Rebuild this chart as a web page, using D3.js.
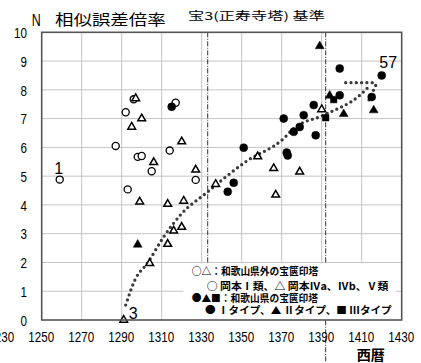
<!DOCTYPE html>
<html>
<head>
<meta charset="utf-8">
<script src="https://cdn.jsdelivr.net/npm/d3@7"></script>
<style>
  body { margin: 0; background: #fff; }
  svg { display: block; }
  text { fill: #000; }
</style>
</head>
<body>
<svg id="chart"></svg>
<script>
// data (year, value)
const okamotoI_years  = [1259, 1287, 1292, 1293, 1296, 1298, 1300, 1305, 1314, 1317, 1327]
const okamotoI_values = [4.88, 6.05, 7.22, 4.54, 7.67, 5.67, 5.70, 5.17, 5.89, 7.55, 4.87]

const okamotoIV_years  = [1291, 1295, 1297, 1299, 1300, 1304, 1306, 1313, 1313, 1316, 1320, 1320, 1321, 1327, 1337, 1358, 1366, 1367, 1379, 1390]
const okamotoIV_values = [0.0, 6.71, 7.70, 4.11, 7.0, 1.97, 5.48, 4.03, 2.64, 3.10, 6.20, 3.23, 4.14, 5.22, 4.72, 5.68, 5.27, 4.35, 5.15, 7.32]

const typeI_years  = [1315, 1343, 1346, 1351, 1371, 1372.5, 1373, 1376, 1379, 1381, 1386, 1387, 1399, 1399, 1415, 1420]
const typeI_values = [7.41, 4.46, 4.77, 5.99, 7.0, 5.82, 5.72, 6.54, 6.71, 7.12, 7.47, 6.42, 8.74, 7.81, 7.75, 8.50]

const typeII_years  = [1298, 1389, 1394, 1401, 1416]
const typeII_values = [2.62, 9.52, 7.80, 7.16, 7.29]

const typeIII_years  = [1392, 1396]
const typeIII_values = [7.03, 7.66]

// dotted trend curve
const trend_years  = [1292, 1296.6, 1303, 1311, 1320, 1332, 1352, 1371, 1376, 1391, 1410, 1414]
const trend_values = [0.52, 1.39, 1.99, 2.89, 3.70, 4.40, 5.50, 6.31, 6.66, 7.12, 7.87, 8.15]
const trendTop_years  = [1402, 1417]
const trendTop_values = [8.25, 8.25]
const trendHook_years  = [1417, 1413]
const trendHook_values = [8.15, 7.55]

const markerYears = [1333, 1392]
const xTicks = [1230, 1250, 1270, 1290, 1310, 1330, 1350, 1370, 1390, 1410, 1430]
const yTicks = [0, 1, 2, 3, 4, 5, 6, 7, 8, 9, 10]
const gridYears = [1270, 1290, 1310, 1330, 1350, 1370, 1390, 1410]

const pointLabels = ["1", "3", "57"]
const pointLabelYears = [1259, 1291, 1420]
const pointLabelValues = [4.88, 0.0, 8.50]

const legendLines = [
  "○△：和歌山県外の宝篋印塔",
  "○ 岡本Ⅰ類、△ 岡本Ⅳa、Ⅳb、Ⅴ類",
  "●▲■：和歌山県の宝篋印塔",
  "● Ⅰタイプ、▲ Ⅱタイプ、■ Ⅲタイプ"
]

// layout
const width = 421
const height = 363
const plot = { left: 41.7, right: 401.7, top: 32.3, bottom: 320 }

const svg = d3.select('svg#chart').attr('width', width).attr('height', height)

const x = d3.scaleLinear().domain([1250, 1430]).range([plot.left, plot.right])
const y = d3.scaleLinear().domain([0, 10]).range([plot.bottom, plot.top])

const zip = (xs, ys) => xs.map((v, i) => [v, ys[i]])

// grid
const grid = svg.append('g').attr('stroke', '#c4c4c4').attr('stroke-width', 1)
grid.selectAll('line.v').data(gridYears).enter().append('line')
    .attr('x1', d => x(d)).attr('x2', d => x(d))
    .attr('y1', plot.top).attr('y2', plot.bottom)
grid.selectAll('line.h').data(yTicks.slice(1, -1)).enter().append('line')
    .attr('y1', d => y(d)).attr('y2', d => y(d))
    .attr('x1', plot.left).attr('x2', plot.right)

// dash-dot markers
svg.append('g').selectAll('line').data(markerYears).enter().append('line')
    .attr('x1', d => x(d)).attr('x2', d => x(d))
    .attr('y1', plot.top)
    .attr('y2', (d, i) => i == 1 ? 362 : plot.bottom)
    .attr('stroke', '#333')
    .attr('stroke-width', 1)
    .attr('stroke-dasharray', '5,1.5,1,1.5')

// trend
const line = d3.line().x(d => x(d[0])).y(d => y(d[1])).curve(d3.curveMonotoneX)
const trendParts = [
  zip(trend_years, trend_values),
  zip(trendTop_years, trendTop_values),
  zip(trendHook_years, trendHook_values)
]
svg.append('g').selectAll('path').data(trendParts).enter().append('path')
    .attr('d', (d, i) => i == 0 ? line(d) : d3.line().x(p => x(p[0])).y(p => y(p[1]))(d))
    .attr('fill', 'none')
    .attr('stroke', '#3a3a3a')
    .attr('stroke-width', 3.3)
    .attr('stroke-linecap', 'round')
    .attr('stroke-dasharray', '0,5.3')

// points
function drawPoints(years, values, type, size, filled, sw) {
    svg.append('g').selectAll('path').data(zip(years, values)).enter().append('path')
        .attr('transform', d => 'translate(' + x(d[0]) + ',' + y(d[1]) + ')')
        .attr('d', d3.symbol().type(type).size(size))
        .attr('fill', filled ? '#000' : '#fff')
        .attr('stroke', '#000')
        .attr('stroke-width', sw)
}
drawPoints(okamotoI_years, okamotoI_values, d3.symbolCircle, 40, false, 1.3)
drawPoints(okamotoIV_years, okamotoIV_values, d3.symbolTriangle, 26, false, 1.5)
drawPoints(typeI_years, typeI_values, d3.symbolCircle, 50, true, 0.5)
drawPoints(typeII_years, typeII_values, d3.symbolTriangle, 34, true, 0.5)
drawPoints(typeIII_years, typeIII_values, d3.symbolSquare, 42, true, 0.5)

// legend
svg.append('rect')
    .attr('x', 183.5).attr('y', 263.5)
    .attr('width', 396 - 183.5).attr('height', plot.bottom - 263.5)
    .attr('fill', '#fff')
const legendX = [191.7, 206.7, 191.7, 205]
const legendW = [126.6, 181.6, 126.3, 186.7]
const legendY = [274.5, 290.2, 302.2, 314]
svg.append('g').selectAll('text').data(legendLines).enter().append('text')
    .attr('x', (d, i) => legendX[i])
    .attr('y', (d, i) => legendY[i])
    .attr('textLength', (d, i) => legendW[i])
    .attr('lengthAdjust', 'spacingAndGlyphs')
    .style('font-family', '"Noto Sans CJK JP", sans-serif')
    .style('font-size', '10px')
    .style('font-weight', 'bold')
    .text(d => d)

// frame
svg.append('rect')
    .attr('x', plot.left).attr('y', plot.top)
    .attr('width', plot.right - plot.left).attr('height', plot.bottom - plot.top)
    .attr('fill', 'none')
    .attr('stroke', '#555')
    .attr('stroke-width', 1.6)

// axes
const xAxis = svg.append('g')
    .attr('transform', 'translate(-1,' + plot.bottom + ')')
    .call(d3.axisBottom(x).tickValues(xTicks).tickSize(0).tickPadding(0).tickFormat(d3.format('d')))
xAxis.select('.domain').remove()
xAxis.selectAll('text')
    .attr('y', 22.5).attr('dy', null)
    .attr('transform', 'scale(0.8,1)')
    .style('font-family', '"Liberation Sans", Arial, sans-serif')
    .style('font-size', '14.5px')
    .style('fill', '#000')

const yAxis = svg.append('g')
    .attr('transform', 'translate(' + plot.left + ',0)')
    .call(d3.axisLeft(y).tickValues(yTicks).tickSize(0))
yAxis.select('.domain').remove()
yAxis.selectAll('text')
    .attr('x', -14.7 / 0.8).attr('dy', '0.36em')
    .attr('transform', 'scale(0.8,1)')
    .style('font-family', '"Liberation Sans", Arial, sans-serif')
    .style('font-size', '14.5px')
    .style('fill', '#000')

// point numbers
const labelDx = [-1, 5, 6.5]
const labelDy = [-6, -1, -7]
svg.append('g').selectAll('text').data(pointLabels).enter().append('text')
    .attr('x', (d, i) => x(pointLabelYears[i]) + labelDx[i])
    .attr('y', (d, i) => y(pointLabelValues[i]) + labelDy[i])
    .attr('text-anchor', (d, i) => i == 1 ? 'start' : 'middle')
    .style('font-family', '"Liberation Sans", Arial, sans-serif')
    .style('font-size', '16px')
    .text(d => d)

// titles
svg.append('text').attr('x', 31.7).attr('y', 25.5)
    .attr('textLength', 9).attr('lengthAdjust', 'spacingAndGlyphs')
    .style('font-family', '"Liberation Sans", Arial, sans-serif')
    .style('font-size', '16.5px')
    .text('N')
svg.append('text').attr('x', 55).attr('y', 24.5)
    .attr('textLength', 110.7).attr('lengthAdjust', 'spacingAndGlyphs')
    .style('font-family', '"Noto Sans CJK JP", sans-serif')
    .style('font-size', '15px')
    .text('相似誤差倍率')
svg.append('text').attr('x', 188).attr('y', 20)
    .attr('textLength', 137).attr('lengthAdjust', 'spacingAndGlyphs')
    .style('font-family', '"Noto Sans CJK JP", sans-serif')
    .style('font-size', '11px')
    .text('宝3(正寿寺塔) 基準')
svg.append('text').attr('x', 356.7).attr('y', 360)
    .attr('textLength', 28.3).attr('lengthAdjust', 'spacingAndGlyphs')
    .style('font-family', '"Noto Sans CJK JP", sans-serif')
    .style('font-size', '13.5px')
    .style('font-weight', 'bold')
    .text('西暦')
</script>
</body>
</html>
